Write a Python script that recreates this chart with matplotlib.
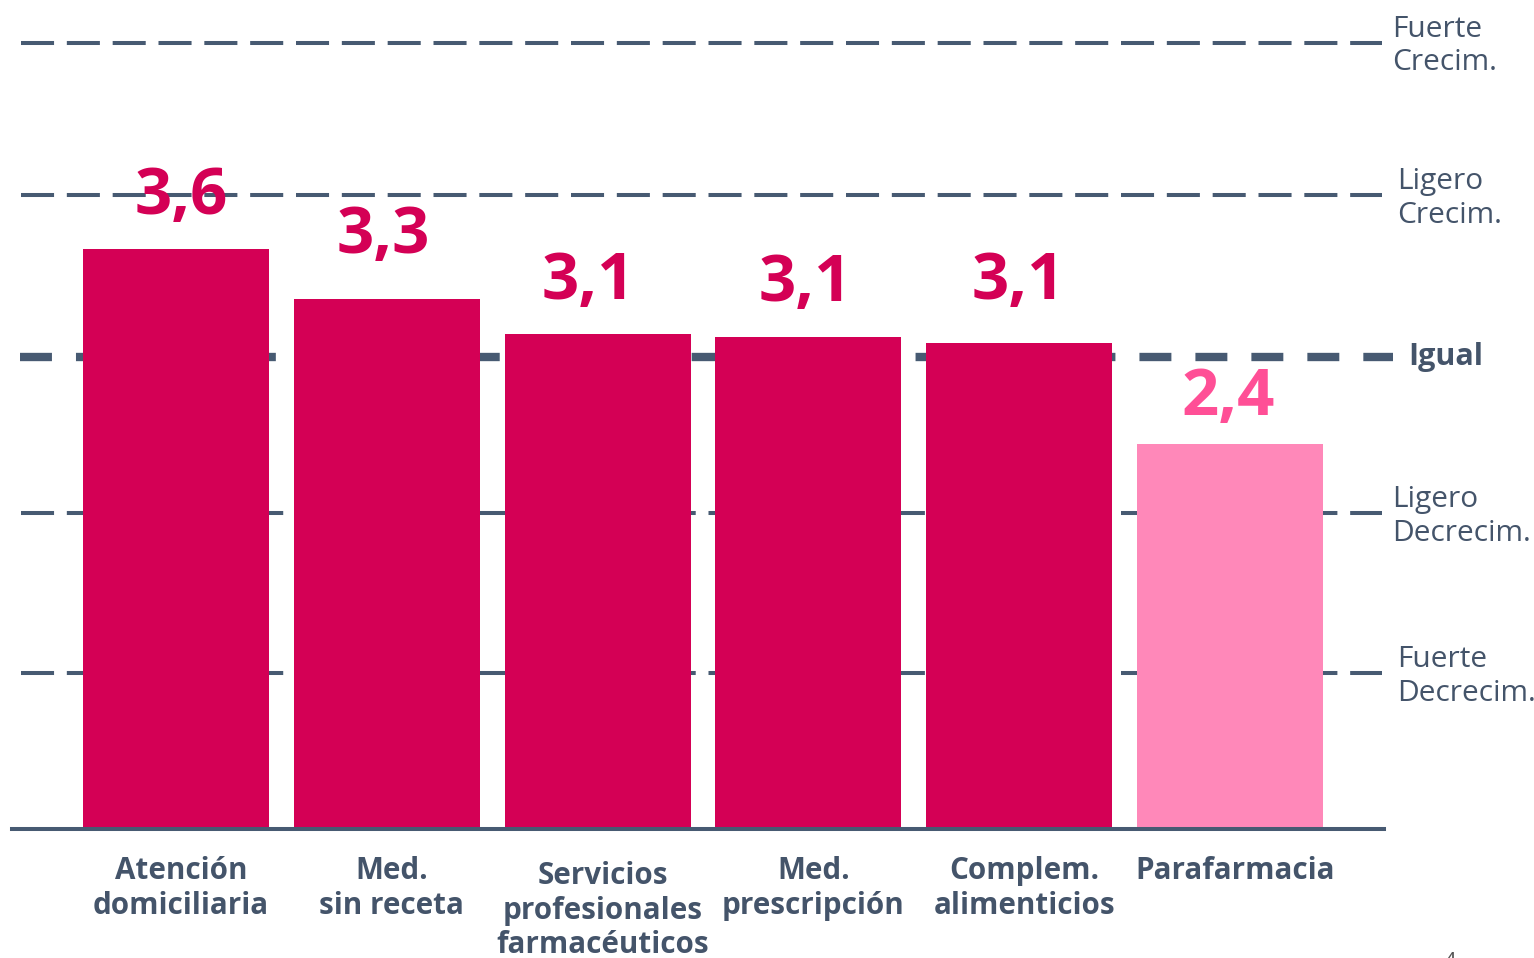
import numpy as np
import matplotlib
matplotlib.use("Agg")
import matplotlib.pyplot as plt

plt.rcParams['font.family'] = ['Open Sans', 'DejaVu Sans']
plt.rcParams['lines.scale_dashes'] = False

# data
categories = ['Atención\ndomiciliaria', 'Med.\nsin receta', 'Servicios\nprofesionales\nfarmacéuticos',
              'Med.\nprescripción', 'Complem.\nalimenticios', 'Parafarmacia']
values = [3.69, 3.37, 3.15, 3.13, 3.09, 2.45]
value_labels = ['3,6', '3,3', '3,1', '3,1', '3,1', '2,4']
levels = [0.99, 2.01, 3.0, 4.03, 5.0]
level_names = ['Fuerte\nDecrecim.', 'Ligero\nDecrecim.', 'Igual', 'Ligero\nCrecim.', 'Fuerte\nCrecim.']

# colours
crimson = '#d40055'
pink_bar = '#ff88b9'
pink_text = '#ff4f96'
slate = '#475a72'
text_col = '#44546a'

W, H = 1534, 958
x0_px, step_px = 176, 210.8      # first bar centre, bar spacing
y0_px, unit_px = 829, 157.3      # baseline, one level

fig = plt.figure(figsize=(W / 100, H / 100), dpi=100)
ax = fig.add_axes([0, 0, 1, 1])
ax.axis('off')
ax.set_xlim(-x0_px / step_px, (W - x0_px) / step_px)
ax.set_ylim(-(H - y0_px) / unit_px, y0_px / unit_px)

x = np.arange(len(categories))
bar_colors = [crimson] * (len(values) - 1) + [pink_bar]
ax.bar(x, values, width=186 / step_px, color=bar_colors, zorder=3)

# reference lines (the middle one, "Igual", is heavier)
for k, lev in enumerate(levels):
    if k == 2:
        ax.axhline(lev, xmin=20 / W, xmax=1393 / W, color=slate, lw=6,
                   dashes=(23, 17.3), zorder=1)
    else:
        ax.axhline(lev, xmin=21 / W, xmax=1382 / W, color=slate, lw=2.9,
                   dashes=(23.8, 9.2), zorder=1)

# baseline
ax.axhline(0, xmin=12 / W, xmax=1384 / W, color=slate, lw=2.9, zorder=4)

# right-hand level names
name_x_px = [1397, 1392, 1408, 1397, 1392]
for k, (lev, name, nx) in enumerate(zip(levels, level_names, name_x_px)):
    bold = k == 2
    ax.annotate(name, ((nx - x0_px) / step_px, lev), xytext=(0, -2.5 if not bold else 0),
                textcoords='offset points', ha='left', va='center',
                fontsize=21.5 if not bold else 22, color=text_col,
                fontweight='bold' if bold else 'normal', linespacing=1.22, zorder=5)

# value labels above bars
label_off_px = [35, 46, 35, 36, 44, 29]
label_dx_px = [5, -4, -9, -3, -1, -2]
for i, (v, lab) in enumerate(zip(values, value_labels)):
    col = pink_text if i == len(values) - 1 else crimson
    ax.annotate(lab, (x[i], v), xytext=(label_dx_px[i] * 0.72, label_off_px[i] * 0.72),
                textcoords='offset points', ha='center', va='baseline',
                fontsize=47, fontweight='bold', color=col, zorder=6)

# category labels
for i, cat in enumerate(categories):
    top_px = 861 if i == 2 else 856
    ax.text(x[i] + 5 / step_px, (y0_px - top_px) / unit_px, cat, ha='center', va='top',
            fontsize=21.3, fontweight='bold', color=text_col, linespacing=1.2)

# page number, cut by the bottom edge
ax.text((1450 - x0_px) / step_px, (y0_px - 968) / unit_px, '4', ha='center', va='baseline',
        fontsize=16, color='#555555')

fig.savefig('out.png', dpi=100)
